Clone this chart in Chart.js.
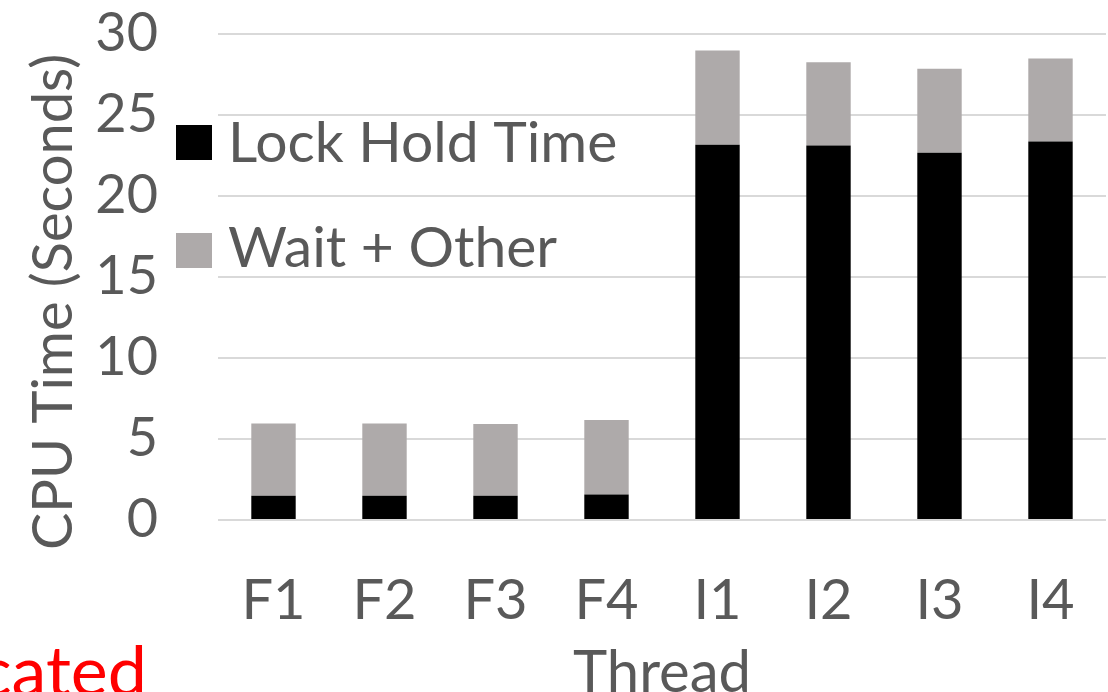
<!DOCTYPE html>
<html>
<head>
<meta charset="utf-8">
<script src="https://cdn.jsdelivr.net/npm/chart.js@4.4.1/dist/chart.umd.min.js"></script>
<style>
  html, body { margin: 0; padding: 0; background: #ffffff; }
  #wrap { position: relative; width: 1108px; height: 692px; overflow: hidden; }
</style>
</head>
<body>
<div id="wrap">
  <canvas id="c" width="1108" height="692"></canvas>
</div>
<script>
// Per-thread CPU time breakdown (seconds)
const threads = ['F1', 'F2', 'F3', 'F4', 'I1', 'I2', 'I3', 'I4'];
const lockHold = [1.49, 1.49, 1.49, 1.57, 23.17, 23.12, 22.67, 23.37];
const waitOther = [4.46, 4.46, 4.44, 4.61, 5.81, 5.14, 5.18, 5.12];
const yTicks = [0, 5, 10, 15, 20, 25, 30];

const FONT = 'Lato, "Noto Sans", sans-serif';
const TEXT = '#595959';

// Legend, y-axis title and side note drawn on the canvas at fixed spots
const overlay = {
  id: 'overlay',
  afterDraw(chart) {
    const ctx = chart.ctx;
    ctx.save();
    ctx.textBaseline = 'alphabetic';
    const items = [[chart.data.datasets[0], 125, 161.7], [chart.data.datasets[1], 233, 266.7]];
    items.forEach(([ds, top, base]) => {
      ctx.fillStyle = ds.backgroundColor;
      ctx.fillRect(176, top, 36, 35);
      ctx.fillStyle = TEXT;
      ctx.textAlign = 'left';
      ctx.font = '57px ' + FONT;
      ctx.fillText(ds.label, 228, base);
    });

    // side note, partly outside the canvas
    ctx.fillStyle = '#ff0000';
    ctx.font = '70px ' + FONT;
    ctx.textAlign = 'right';
    ctx.fillText('cated', 147, 696);

    // y-axis title
    ctx.fillStyle = TEXT;
    ctx.translate(72, 302);
    ctx.rotate(-Math.PI / 2);
    ctx.textAlign = 'center';
    ctx.font = '56px ' + FONT;
    ctx.fillText('CPU Time (Seconds)', 0, 0);
    ctx.restore();
  }
};

new Chart(document.getElementById('c'), {
  type: 'bar',
  data: {
    labels: threads,
    datasets: [
      { label: 'Lock Hold Time', data: lockHold, backgroundColor: '#000000' },
      { label: 'Wait + Other', data: waitOther, backgroundColor: '#AEAAAA' }
    ]
  },
  options: {
    responsive: false,
    animation: false,
    layout: { padding: { top: 34, right: 2, left: 0, bottom: 0 } },
    plugins: { legend: { display: false }, tooltip: { enabled: false } },
    datasets: { bar: { categoryPercentage: 1.0, barPercentage: 0.4 } },
    scales: {
      x: {
        stacked: true,
        grid: { display: false },
        border: { display: false },
        ticks: { color: TEXT, font: { family: FONT, size: 56 }, padding: 39 },
        title: { display: true, text: 'Thread', color: TEXT, font: { family: FONT, size: 58 }, padding: { top: 0, bottom: -16 } },
        afterFit(s) { s.height = 172; s.paddingLeft = 0; s.paddingRight = 0; }
      },
      y: {
        stacked: true,
        min: 0, max: 30,
        afterBuildTicks(s) { s.ticks = yTicks.map(v => ({ value: v })); },
        grid: { color: '#D9D9D9', lineWidth: 2, drawTicks: false },
        border: { display: false },
        ticks: { color: TEXT, font: { family: FONT, size: 54 }, padding: 60 },
        afterFit(s) { s.width = 218; s.paddingTop = 0; s.paddingBottom = 0; }
      }
    }
  },
  plugins: [overlay]
});
</script>
</body>
</html>
